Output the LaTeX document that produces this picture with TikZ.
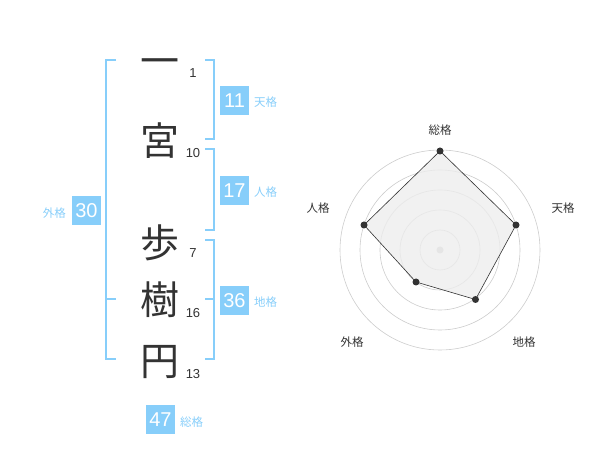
\documentclass[tikz,border=0pt]{standalone}
\usepackage{fontspec}
\setmainfont{Liberation Sans}
\newfontfamily\jp{Noto Sans CJK JP}
\definecolor{sky}{HTML}{87CEFA}
\definecolor{ink}{HTML}{333333}
\begin{document}
\begin{tikzpicture}[x=1pt,y=-1pt,
  kanji/.style={font=\jp\fontsize{39}{39}\selectfont,text=ink,inner sep=0},
  strokes/.style={font=\fontsize{13}{13}\selectfont,text=ink,inner sep=0},
  valbox/.style={fill=sky,text=white,minimum width=29,minimum height=29,inner sep=0,font=\fontsize{20}{20}\selectfont},
  kaku/.style={text=sky,font=\jp\fontsize{11.5}{12}\selectfont,inner sep=0,anchor=west},
  brk/.style={draw=sky,line width=1.6pt},
  ring/.style={draw=black!20,line width=0.6pt},
  axlab/.style={text=ink,font=\jp\fontsize{11.5}{12}\selectfont,inner sep=0},
  pt/.style={circle,fill=ink,inner sep=0,minimum size=7}]
\useasboundingbox (0,0) rectangle (600,470);
% characters
\node[kanji] (c1) at (160,67) {一};
\node[kanji] (c2) at (160,141) {宮};
\node[kanji] (c3) at (160,243) {歩};
\node[kanji] (c4) at (160,300) {樹};
\node[kanji] (c5) at (160,362) {円};
\node[strokes] (n1) at (193,73) {1};
\node[strokes] (n2) at (193,153) {10};
\node[strokes] (n3) at (193,253) {7};
\node[strokes] (n4) at (193,313) {16};
\node[strokes] (n5) at (193,374) {13};
% brackets
\draw[brk] (116,60) -- (106,60) -- (106,359) -- (116,359);
\draw[brk] (106,299) -- (116,299);
\draw[brk] (205,60) -- (214,60) -- (214,139) -- (205,139);
\draw[brk] (205,149) -- (214,149) -- (214,230) -- (205,230);
\draw[brk] (205,240) -- (214,240) -- (214,359) -- (205,359);
\draw[brk] (205,299) -- (214,299);
% values
\node[valbox] (b11) at (234.5,100.5) {11};
\node[kaku] (l11) at (254,102) {天格};
\node[valbox] (b17) at (234.5,190.5) {17};
\node[kaku] (l17) at (254,192) {人格};
\node[valbox] (b36) at (234.5,300.5) {36};
\node[kaku] (l36) at (254,302) {地格};
\node[valbox] (b30) at (86.5,210.5) {30};
\node[kaku,anchor=east] (l30) at (66,213) {外格};
\node[valbox] (b47) at (160.5,419.5) {47};
\node[kaku] (l47) at (180,422) {総格};
% radar
\coordinate (o) at (440,250);
\foreach \r in {20,40,60,80,100} \draw[ring] (o) circle (\r);
\fill[black!22] (o) circle (3.5);
\coordinate (p1) at (440,151);
\coordinate (p2) at (516,225);
\coordinate (p3) at (475.5,299.5);
\coordinate (p4) at (416,282);
\coordinate (p5) at (364,225);
\draw[fill=black!7,fill opacity=0.8,draw=ink,line width=0.6pt] (p1) -- (p2) -- (p3) -- (p4) -- (p5) -- cycle;
\foreach \p in {p1,p2,p3,p4,p5} \node[pt] at (\p) {};
\node[axlab] (a1) at (440,130) {総格};
\node[axlab] (a2) at (563,208) {天格};
\node[axlab] (a3) at (524,342) {地格};
\node[axlab] (a4) at (352,342) {外格};
\node[axlab] (a5) at (318,208) {人格};
\end{tikzpicture}
\end{document}
